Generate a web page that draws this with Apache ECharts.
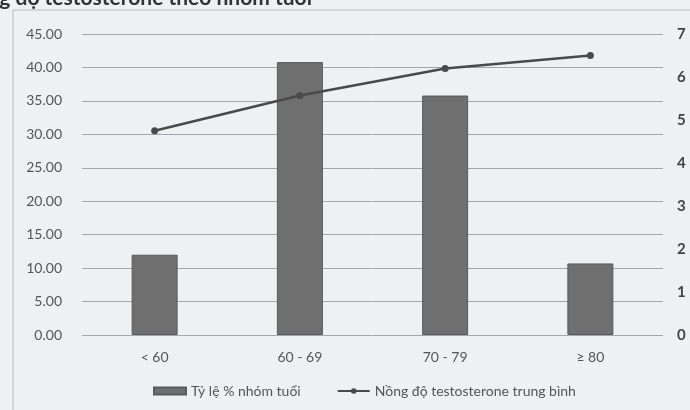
<!DOCTYPE html>
<html>
<head>
<meta charset="utf-8">
<script src="https://cdn.jsdelivr.net/npm/echarts@6/dist/echarts.min.js"></script>
<style>
  html, body { margin: 0; padding: 0; background: #eef0f2; }
  #chart { width: 690px; height: 410px; }
</style>
</head>
<body>
<div id="chart"></div>
<script>
const categories = ['< 60', '60 - 69', '70 - 79', '≥ 80'];
const pctAgeGroup = [12.0, 40.8, 35.8, 10.7];
const meanTestosterone = [4.75, 5.57, 6.2, 6.5];

const font = 'Lato, "Open Sans", sans-serif';
const chart = echarts.init(document.getElementById('chart'));

chart.setOption({
  backgroundColor: '#eef0f2',
  animation: false,
  textStyle: { fontFamily: font, color: '#555' },
  graphic: [
    {
      type: 'rect',
      shape: { x: 13, y: 10, width: 700, height: 420 },
      style: { fill: 'none', stroke: '#b9bcc0', lineWidth: 1 },
      silent: true
    },
    {
      type: 'text',
      x: 312,
      y: 9,
      style: {
        text: 'Nồng độ testosterone theo nhóm tuổi',
        font: 'bold 21px ' + font,
        fill: '#333',
        align: 'right',
        verticalAlign: 'bottom'
      }
    }
  ],
  grid: { left: 82, right: 27, top: 34, bottom: 75 },
  legend: {
    bottom: 7,
    left: 148,
    itemGap: 36,
    textStyle: { fontFamily: font, fontSize: 14, color: '#555' },
    data: [
      { name: 'Tỷ lệ % nhóm tuổi', icon: 'rect', itemStyle: { color: '#6f6f6f' } },
      { name: 'Nồng độ testosterone trung bình' }
    ],
    itemWidth: 32,
    itemHeight: 7
  },
  xAxis: {
    type: 'category',
    data: categories,
    axisLine: { show: false },
    axisTick: { show: false },
    axisLabel: { fontSize: 14, color: '#555', margin: 15 }
  },
  yAxis: [
    {
      type: 'value',
      min: 0,
      max: 45,
      interval: 5,
      axisLine: { show: false },
      axisTick: { show: false },
      axisLabel: {
        fontSize: 14,
        color: '#555',
        margin: 20,
        formatter: v => v.toFixed(2)
      },
      splitLine: { lineStyle: { color: '#a4a7ab', width: 1 } }
    },
    {
      type: 'value',
      min: 0,
      max: 7,
      interval: 1,
      axisLine: { show: false },
      axisTick: { show: false },
      axisLabel: { fontSize: 15, fontWeight: 'bold', color: '#444', margin: 14 },
      splitLine: { show: false }
    }
  ],
  series: [
    {
      name: 'Tỷ lệ % nhóm tuổi',
      type: 'bar',
      data: pctAgeGroup,
      barWidth: 46,
      itemStyle: { color: '#6f6f6f', borderColor: '#5a5a5a', borderWidth: 1 }
    },
    {
      name: 'Nồng độ testosterone trung bình',
      type: 'line',
      yAxisIndex: 1,
      data: meanTestosterone,
      symbol: 'circle',
      symbolSize: 7,
      lineStyle: { color: '#4a4a4a', width: 2.5 },
      itemStyle: { color: '#4a4a4a' }
    }
  ]
});
</script>
</body>
</html>
